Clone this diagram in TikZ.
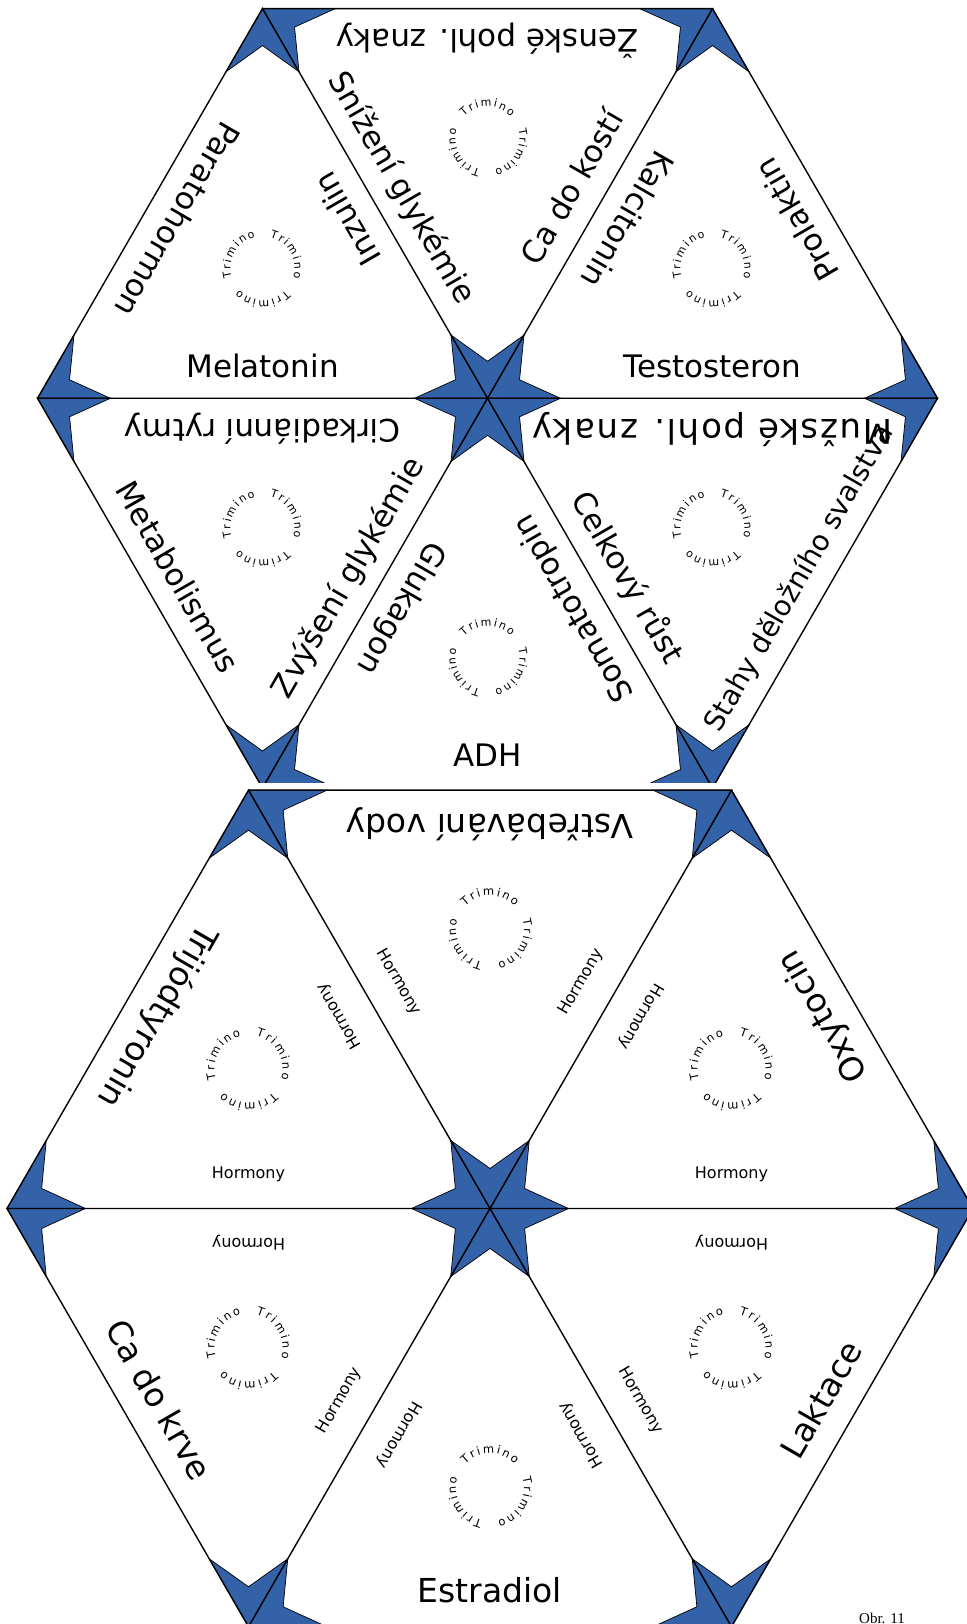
\documentclass[tikz,border=0pt]{standalone}
\usepackage{fontspec}
\setmainfont{DejaVu Sans}
\newfontfamily\obrfont{Liberation Serif}
\usetikzlibrary{calc,decorations.text}
\definecolor{kiteblue}{HTML}{3462A9}
\newcommand\mykite[5]{%
  \filldraw[kitefill] (#1) -- ($(#1)+({#2}:#4)$) -- ($(#1)+({(#2+#3)/2}:#5)$) -- ($(#1)+({#3}:#4)$) -- cycle;}
\newcommand\drawhex[6]{%
  \foreach \k in {0,...,5}{\coordinate (#1-\k) at ($(#1)+({60*\k}:#2)$);}
  \foreach \k in {0,...,5}{%
    \pgfmathtruncatemacro\kn{mod(\k+1,6)}
    \mykite{#1}{60*\k}{60*\k+60}{#3}{#4}
    \mykite{#1-\k}{60*\k+120}{60*\k+180}{#3}{#4}
    \mykite{#1-\kn}{60*\k-60}{60*\k-120}{#3}{#4}
  }
  \foreach \k in {0,...,5}{%
    \pgfmathtruncatemacro\kn{mod(\k+1,6)}
    \draw[edgeline] (#1) -- (#1-\k) -- (#1-\kn);
  }
  \foreach \k in {0,...,5}{%
    \pgfmathsetmacro\off{mod(\k,3)==1 ? 90 : 30}
    \coordinate (#1-g\k) at ($(#1)+({30+60*\k}:{#2*0.57735})$);
    \foreach \a in {0,120,240}{%
      \path[decorate,decoration={text along path,text={|\fontsize{#6}{#6}\selectfont|Trimino},text align={fit to path}}]
        ($(#1-g\k)+({\off+\a+47}:#5)$) arc[start angle={\off+\a+47},end angle={\off+\a-47},radius=#5];
    }
  }
}
\newcommand\outerlbl[6]{\node[#5,anchor=base,rotate={120+60*#2}] (l#1#2o) at ($(#1)+({30+60*#2}:{#3-#4})$) {#6};}
\newcommand\spokeA[6]{\node[#5,anchor=base,rotate={60*#2}] (l#1#2a) at ($(#1)+({60*#2}:#3)+({60*#2+90}:#4)$) {#6};}
\newcommand\spokeB[6]{\node[#5,anchor=base,rotate={60*#2+240}] (l#1#2b) at ($(#1)+({60*#2+60}:#3)+({60*#2-30}:#4)$) {#6};}
\begin{document}
\begin{tikzpicture}[x=1pt,y=1pt,
  kitefill/.style={fill=kiteblue,draw=black,line width=0.7pt,line join=miter},
  edgeline/.style={draw=black,line width=1.4pt},
  bigT/.style={font=\fontsize{31}{36}\selectfont,inner sep=0pt},
  midT/.style={font=\fontsize{28}{33}\selectfont,inner sep=0pt},
  wideT/.style={font=\fontsize{34}{39}\selectfont\addfontfeature{LetterSpace=5},inner sep=0pt},
  bigB/.style={font=\fontsize{33}{38}\selectfont,inner sep=0pt},
  smallB/.style={font=\fontsize{16}{19}\selectfont,inner sep=0pt}]
\useasboundingbox (0,0) rectangle (966,1624);
\coordinate (T) at (487.5,1225.7);
\coordinate (B) at (490,415.5);
% top hexagon
\begin{scope}
\clip (-10,841) rectangle (976,1634);
\drawhex{T}{450}{73}{37}{32}{11}
\outerlbl{T}{0}{389.7}{21}{bigT}{Prolaktin}
\spokeA{T}{0}{225}{21}{bigT}{Testosteron}
\spokeB{T}{0}{225}{21}{bigT}{Kalcitonin}
\outerlbl{T}{1}{389.7}{21}{bigT}{Ženské pohl. znaky}
\spokeA{T}{1}{225}{21}{bigT}{Ca do kostí}
\spokeB{T}{1}{225}{21}{bigT}{Snížení glykémie}
\outerlbl{T}{2}{389.7}{21}{bigT}{Paratohormon}
\spokeA{T}{2}{225}{21}{bigT}{Inzulin}
\spokeB{T}{2}{225}{21}{bigT}{Melatonin}
\outerlbl{T}{3}{389.7}{21}{bigT}{Metabolismus}
\spokeA{T}{3}{225}{21}{bigT}{Cirkadiánní rytmy}
\spokeB{T}{3}{225}{21}{bigT}{Zvýšení glykémie}
\outerlbl{T}{4}{389.7}{21}{bigT}{ADH}
\spokeA{T}{4}{225}{21}{bigT}{Glukagon}
\spokeB{T}{4}{225}{21}{bigT}{Somatotropin}
\outerlbl{T}{5}{389.7}{21}{midT}{Stahy děložního svalstva}
\spokeA{T}{5}{225}{21}{bigT}{Celkový růst}
\spokeB{T}{5}{225}{21}{wideT}{Mužské pohl. znaky}
\end{scope}
% bottom hexagon
\drawhex{B}{483}{78.5}{40}{34}{11.5}
\outerlbl{B}{0}{418.3}{24}{bigB}{Oxytocin}
\spokeA{B}{0}{241.5}{30}{smallB}{Hormony}
\spokeB{B}{0}{241.5}{30}{smallB}{Hormony}
\outerlbl{B}{1}{418.3}{24}{bigB}{Vstřebávání vody}
\spokeA{B}{1}{241.5}{30}{smallB}{Hormony}
\spokeB{B}{1}{241.5}{30}{smallB}{Hormony}
\outerlbl{B}{2}{418.3}{24}{bigB}{Trijódtyronin}
\spokeA{B}{2}{241.5}{30}{smallB}{Hormony}
\spokeB{B}{2}{241.5}{30}{smallB}{Hormony}
\outerlbl{B}{3}{418.3}{24}{bigB}{Ca do krve}
\spokeA{B}{3}{241.5}{30}{smallB}{Hormony}
\spokeB{B}{3}{241.5}{30}{smallB}{Hormony}
\outerlbl{B}{4}{418.3}{24}{bigB}{Estradiol}
\spokeA{B}{4}{241.5}{30}{smallB}{Hormony}
\spokeB{B}{4}{241.5}{30}{smallB}{Hormony}
\outerlbl{B}{5}{418.3}{24}{bigB}{Laktace}
\spokeA{B}{5}{241.5}{30}{smallB}{Hormony}
\spokeB{B}{5}{241.5}{30}{smallB}{Hormony}
\node[font=\obrfont\fontsize{15}{18}\selectfont,anchor=base west,inner sep=0pt] (obr) at (859,1) {Obr. 11};
\end{tikzpicture}
\end{document}
